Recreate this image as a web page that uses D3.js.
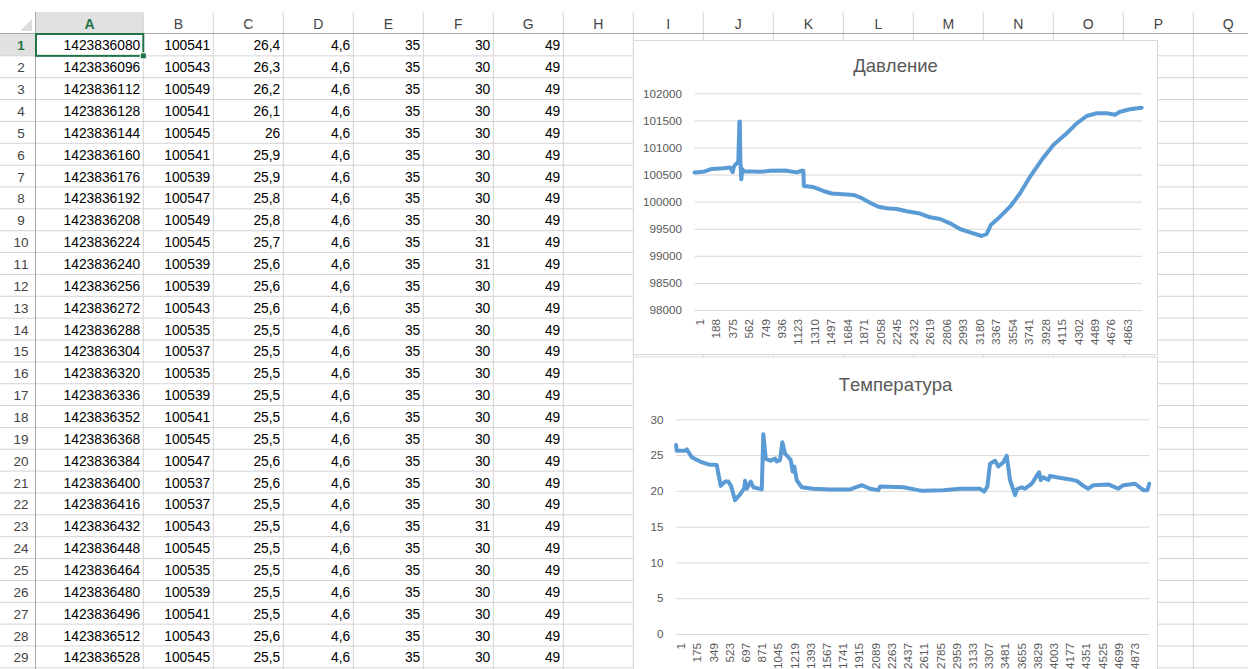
<!DOCTYPE html>
<html><head><meta charset="utf-8">
<script src="https://cdn.jsdelivr.net/npm/d3@7/dist/d3.min.js"></script>
<style>
html,body{margin:0;padding:0;background:#fff;overflow:hidden}
svg{display:block}
text{font-family:"Liberation Sans",Arial,sans-serif;font-kerning:none}
</style></head><body>
<svg id="s" width="1248" height="669"></svg>
<script>
// ---------- spreadsheet data ----------
const colLetters = ["A","B","C","D","E","F","G","H","I","J","K","L","M","N","O","P","Q"];
const colA = [1423836080,1423836096,1423836112,1423836128,1423836144,1423836160,1423836176,1423836192,1423836208,1423836224,1423836240,1423836256,1423836272,1423836288,1423836304,1423836320,1423836336,1423836352,1423836368,1423836384,1423836400,1423836416,1423836432,1423836448,1423836464,1423836480,1423836496,1423836512,1423836528];
const colB = [100541,100543,100549,100541,100545,100541,100539,100547,100549,100545,100539,100539,100543,100535,100537,100535,100539,100541,100545,100547,100537,100537,100543,100545,100535,100539,100541,100543,100545];
const colC = [26.4,26.3,26.2,26.1,26,25.9,25.9,25.8,25.8,25.7,25.6,25.6,25.6,25.5,25.5,25.5,25.5,25.5,25.5,25.6,25.6,25.5,25.5,25.5,25.5,25.5,25.5,25.6,25.5];
const colD = [4.6,4.6,4.6,4.6,4.6,4.6,4.6,4.6,4.6,4.6,4.6,4.6,4.6,4.6,4.6,4.6,4.6,4.6,4.6,4.6,4.6,4.6,4.6,4.6,4.6,4.6,4.6,4.6,4.6];
const colE = [35,35,35,35,35,35,35,35,35,35,35,35,35,35,35,35,35,35,35,35,35,35,35,35,35,35,35,35,35];
const colF = [30,30,30,30,30,30,30,30,30,31,31,30,30,30,30,30,30,30,30,30,30,30,31,30,30,30,30,30,30];
const colG = [49,49,49,49,49,49,49,49,49,49,49,49,49,49,49,49,49,49,49,49,49,49,49,49,49,49,49,49,49];

// ---------- chart data (sample index, value) ----------
const N = 5080;
const pressIdx = [1,101,196,328,404,435,444,461,498,510,515,521,532,544,555,745,858,1028,1161,1218,1236,1242,1350,1463,1558,1690,1804,1880,1993,2088,2183,2296,2410,2561,2675,2788,2902,3015,3129,3261,3318,3364,3469,3583,3696,3810,3960,4074,4226,4340,4453,4567,4680,4774,4831,4944,5077];
const pressVal = [100540,100550,100603,100616,100630,100545,100630,100677,100738,101476,101480,100750,100413,100600,100560,100550,100570,100575,100540,100570,100570,100290,100270,100197,100150,100136,100124,100080,99981,99907,99877,99865,99822,99780,99711,99680,99600,99495,99434,99366,99403,99570,99723,99907,100154,100461,100811,101046,101262,101446,101581,101631,101631,101605,101660,101705,101735];

const tempIdx = [1,8,98,116,170,259,348,438,455,481,527,562,591,634,688,731,742,760,803,831,921,938,964,1010,1064,1082,1117,1142,1171,1207,1232,1253,1271,1296,1350,1475,1654,1869,1994,2083,2172,2190,2441,2602,2655,2870,3049,3264,3307,3342,3371,3425,3460,3514,3550,3586,3640,3658,3711,3747,3819,3872,3897,3915,3943,3997,4015,4087,4230,4302,4373,4426,4480,4641,4748,4802,4928,5017,5060,5080];
const tempVal = [26.4,25.6,25.6,25.8,24.7,24.1,23.7,23.6,22.4,20.7,21.3,21.3,20.7,18.7,19.5,20.3,21.4,20.3,21.3,20.5,20.2,27.9,24.5,24.2,24.5,24.1,24.3,26.8,25.2,24.7,24.3,22.7,23.4,21.5,20.5,20.3,20.2,20.2,20.8,20.3,20.1,20.6,20.5,20.1,20.0,20.1,20.3,20.3,19.9,20.6,23.8,24.2,23.4,24.0,24.9,21.5,19.4,20.2,20.5,20.3,21.0,22.1,22.6,21.5,21.9,21.5,22.1,21.9,21.6,21.4,20.7,20.3,20.8,20.9,20.3,20.8,21.0,20.1,20.1,21.0];

const pressYTicks = [98000,98500,99000,99500,100000,100500,101000,101500,102000];
const pressXLabels = [1,188,375,562,749,936,1123,1310,1497,1684,1871,2058,2245,2432,2619,2806,2993,3180,3367,3554,3741,3928,4115,4302,4489,4676,4863];
const tempYTicks = [0,5,10,15,20,25,30];
const tempXLabels = [1,175,349,523,697,871,1045,1219,1393,1567,1741,1915,2089,2263,2437,2611,2785,2959,3133,3307,3481,3655,3829,4003,4177,4351,4525,4699,4873];
const pressTitle = "Давление";
const tempTitle = "Температура";

// ---------- drawing ----------
const svg = d3.select("#s");
const W = 1248, H = 669;
const gridCol = "#d4d4d4";
const rowTop = 34, rowH = 21.857, nRows = 29;
const headTop = 12;
const colEdges = [36, 143.3];
for (let i = 1; i < colLetters.length; i++) colEdges.push(colEdges[colEdges.length-1] + 70);

const sheet = svg.append("g");
sheet.append("rect").attr("x", colEdges[0]).attr("y", headTop).attr("width", colEdges[1]-colEdges[0]).attr("height", rowTop-headTop).attr("fill", "#e1e1e1");
sheet.append("rect").attr("x", 0).attr("y", rowTop).attr("width", colEdges[0]).attr("height", rowH).attr("fill", "#e1e1e1");
sheet.append("path").attr("d", `M${colEdges[0]-4},${headTop+7} L${colEdges[0]-4},${rowTop-3} L${colEdges[0]-16},${rowTop-3} Z`).attr("fill", "#dcdcdc");

const rowLines = d3.range(1, nRows + 2).map(k => rowTop + k * rowH);
sheet.selectAll("line.rl").data(rowLines).join("line")
  .attr("x1", 0).attr("x2", W).attr("y1", d => d).attr("y2", d => d)
  .attr("stroke", gridCol).attr("stroke-width", 1);
sheet.selectAll("line.cl").data(colEdges.slice(1)).join("line")
  .attr("x1", d => d).attr("x2", d => d).attr("y1", headTop).attr("y2", H)
  .attr("stroke", gridCol).attr("stroke-width", 1);
sheet.append("line").attr("x1", 0).attr("x2", W).attr("y1", rowTop - 0.5).attr("y2", rowTop - 0.5).attr("stroke", "#ababab");
sheet.append("line").attr("x1", colEdges[0]-0.5).attr("x2", colEdges[0]-0.5).attr("y1", headTop).attr("y2", H).attr("stroke", "#ababab");

sheet.selectAll("text.ch").data(colLetters).join("text")
  .attr("x", (d, i) => (colEdges[i] + colEdges[i+1]) / 2)
  .attr("y", (headTop + rowTop) / 2 + 1)
  .attr("text-anchor", "middle").attr("dominant-baseline", "central")
  .attr("font-size", 14)
  .attr("fill", (d, i) => i === 0 ? "#217346" : "#444")
  .attr("font-weight", (d, i) => i === 0 ? "bold" : "normal")
  .text(d => d);
sheet.selectAll("text.rn").data(d3.range(1, nRows + 1)).join("text")
  .attr("x", 21).attr("y", d => rowTop + (d - 0.5) * rowH + 1)
  .attr("text-anchor", "middle").attr("dominant-baseline", "central")
  .attr("font-size", 13.5)
  .attr("fill", d => d === 1 ? "#217346" : "#444")
  .attr("font-weight", d => d === 1 ? "bold" : "normal")
  .text(d => d);

const fmt = v => String(v).replace(".", ",");
const cols = [colA, colB, colC, colD, colE, colF, colG];
cols.forEach((col, ci) => {
  sheet.selectAll(null).data(col).join("text")
    .attr("x", colEdges[ci + 1] - 3)
    .attr("y", (d, ri) => rowTop + (ri + 0.5) * rowH + 1)
    .attr("text-anchor", "end").attr("dominant-baseline", "central")
    .attr("font-size", 13.8).attr("fill", "#000")
    .text(d => fmt(d));
});
sheet.append("rect").attr("x", colEdges[0]).attr("y", rowTop).attr("width", colEdges[1]-colEdges[0]).attr("height", rowH)
  .attr("fill", "none").attr("stroke", "#217346").attr("stroke-width", 2);
sheet.append("rect").attr("x", colEdges[1]-3).attr("y", rowTop+rowH-3).attr("width", 6).attr("height", 6)
  .attr("fill", "#217346").attr("stroke", "#fff").attr("stroke-width", 1);

// ---------- charts ----------
function chart(cfg) {
  const g = svg.append("g");
  g.append("rect").attr("x", cfg.box[0]).attr("y", cfg.box[1]).attr("width", cfg.box[2]).attr("height", cfg.box[3])
    .attr("fill", "#fff").attr("stroke", "#d9d9d9").attr("stroke-width", 1);
  g.append("text").attr("x", cfg.box[0] + cfg.box[2] / 2).attr("y", cfg.titleY)
    .attr("text-anchor", "middle").attr("dominant-baseline", "central")
    .attr("font-size", 18.5).attr("fill", "#595959").text(cfg.title);
  const x = d3.scaleLinear().domain([0.5, N + 0.5]).range(cfg.xr);
  const y = d3.scaleLinear().domain(cfg.yd).range(cfg.yr);
  const ya = g.append("g").attr("transform", `translate(${cfg.xr[0]},0)`)
    .call(d3.axisLeft(y).tickValues(cfg.yTicks).tickSize(-(cfg.xr[1] - cfg.xr[0])).tickPadding(12.5).tickFormat(d3.format("d")));
  ya.select(".domain").remove();
  ya.selectAll("line").attr("stroke", "#d9d9d9");
  ya.selectAll("text").attr("font-size", 11.7).attr("fill", "#595959").attr("font-family", '"Liberation Sans",Arial,sans-serif');
  const xa = g.append("g").attr("transform", `translate(0,${cfg.yr[0]})`)
    .call(d3.axisBottom(x).tickValues(cfg.xLabels).tickSize(0).tickFormat(d3.format("d")));
  xa.select(".domain").remove();
  xa.selectAll("text").attr("x", 0).attr("y", 0).attr("dy", "0.35em")
    .attr("transform", `translate(4.5,${cfg.labPad}) rotate(-90)`)
    .attr("text-anchor", "end").attr("font-size", 11.7).attr("fill", "#595959")
    .attr("font-family", '"Liberation Sans",Arial,sans-serif');
  const pts = cfg.idx.map((d, i) => ({ i: d, v: cfg.val[i] }));
  g.append("path").datum(pts)
    .attr("d", d3.line().x(d => x(d.i)).y(d => y(d.v)))
    .attr("fill", "none").attr("stroke", "#5b9bd5").attr("stroke-width", 4)
    .attr("stroke-linejoin", "round").attr("stroke-linecap", "round");
}

chart({ box: [633.5, 40.5, 524, 314], title: pressTitle, titleY: 65.5,
  xr: [694.5, 1142], yr: [310, 93.3], yd: [98000, 102000], yTicks: pressYTicks,
  xLabels: pressXLabels, labPad: 9, idx: pressIdx, val: pressVal });
chart({ box: [633.5, 357, 524, 340], title: tempTitle, titleY: 384.5,
  xr: [676, 1149.3], yr: [634, 419.3], yd: [0, 30], yTicks: tempYTicks,
  xLabels: tempXLabels, labPad: 9, idx: tempIdx, val: tempVal });
</script>
</body></html>
